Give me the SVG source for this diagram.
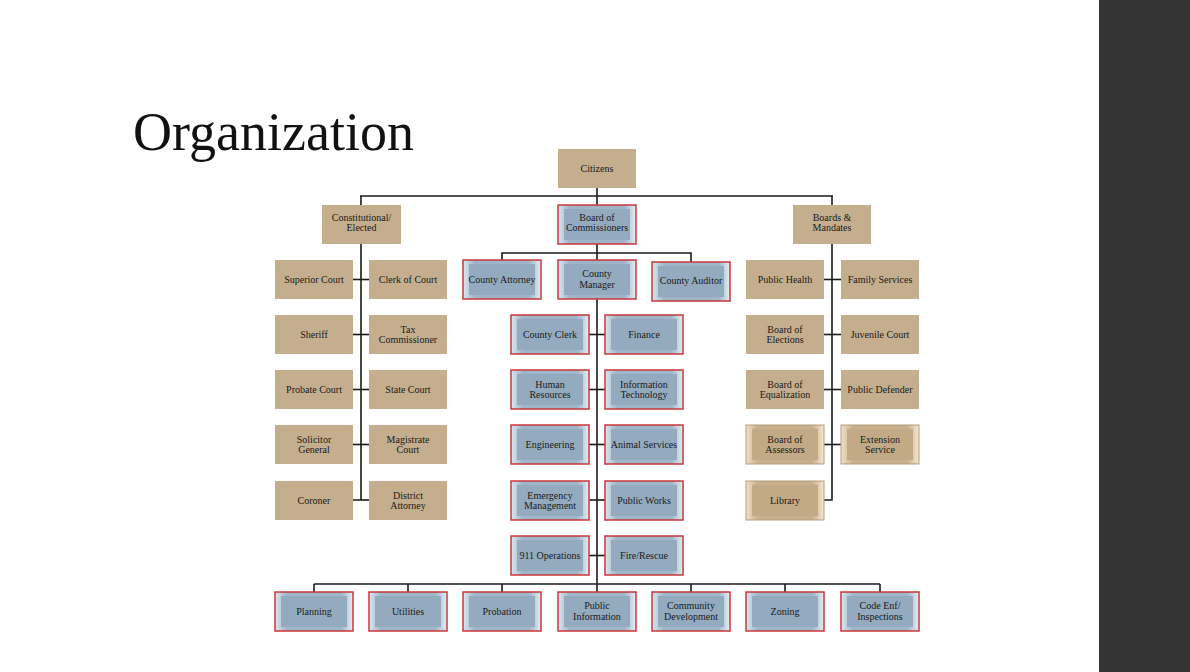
<svg xmlns="http://www.w3.org/2000/svg" width="1190" height="672" viewBox="0 0 1190 672">
<defs>
<linearGradient id="bg" x1="0" y1="0" x2="1" y2="0"><stop offset="0" stop-color="#dbe7ef"/><stop offset="0.15" stop-color="#9fb5c8"/><stop offset="0.85" stop-color="#9fb5c8"/><stop offset="1" stop-color="#e4eef4"/></linearGradient>
<linearGradient id="tg" x1="0" y1="0" x2="1" y2="0"><stop offset="0" stop-color="#f0e2c6"/><stop offset="0.15" stop-color="#c8b08c"/><stop offset="0.85" stop-color="#c8b08c"/><stop offset="1" stop-color="#f4e8d2"/></linearGradient>
</defs>
<style>
.t{font-family:"Liberation Serif",serif;font-size:10px;fill:#1a1a1a;text-anchor:middle}
.flat{fill:#c4ae8e}
.b .o{fill:url(#bg);stroke:#c8383a;stroke-width:1.5}
.b .i{fill:#94abbf}
.k .o{fill:url(#tg);stroke:#b39d7c;stroke-width:1}
.k .i{fill:#c2aa86}
.c line,.c polyline{stroke:#1a1a1a;stroke-width:1.6;fill:none}
</style>
<rect width="1190" height="672" fill="#fff"/>
<rect x="1099" y="0" width="91" height="672" fill="#333333"/>
<text x="133" y="150" font-family="Liberation Serif,serif" font-size="54" fill="#111">Organization</text>
<g class="c">
<line x1="597" y1="188" x2="597" y2="205"/>
<line x1="360" y1="196" x2="833" y2="196"/>
<line x1="361" y1="196" x2="361" y2="205"/>
<line x1="832" y1="196" x2="832" y2="205"/>
<polyline points="353,500 361,500 361,244"/><line x1="361" y1="500" x2="369" y2="500"/>
<line x1="353" y1="279.5" x2="369" y2="279.5"/><line x1="353" y1="334.5" x2="369" y2="334.5"/><line x1="353" y1="389.5" x2="369" y2="389.5"/><line x1="353" y1="444.5" x2="369" y2="444.5"/>
<line x1="597" y1="244" x2="597" y2="260"/>
<polyline points="502,260 502,253 691,253 691,262"/>
<line x1="597" y1="299" x2="597" y2="592"/>
<line x1="589" y1="334.5" x2="605" y2="334.5"/><line x1="589" y1="389.5" x2="605" y2="389.5"/><line x1="589" y1="444.5" x2="605" y2="444.5"/><line x1="589" y1="500" x2="605" y2="500"/><line x1="589" y1="555.5" x2="605" y2="555.5"/>
<line x1="314" y1="584" x2="880" y2="584"/>
<line x1="314" y1="584" x2="314" y2="592"/><line x1="408" y1="584" x2="408" y2="592"/><line x1="502" y1="584" x2="502" y2="592"/><line x1="691" y1="584" x2="691" y2="592"/><line x1="785" y1="584" x2="785" y2="592"/><line x1="880" y1="584" x2="880" y2="592"/>
<polyline points="824,500 832,500 832,244"/>
<line x1="824" y1="279.5" x2="841" y2="279.5"/><line x1="824" y1="334.5" x2="841" y2="334.5"/><line x1="824" y1="389.5" x2="841" y2="389.5"/><line x1="824" y1="444.5" x2="841" y2="444.5"/>
</g>
<g id="citizens"><rect class="flat" x="558" y="149" width="78" height="39"/><text class="t" x="597" y="172">Citizens</text></g>
<g id="const"><rect class="flat" x="322" y="205" width="79" height="39"/><text class="t" x="361.5" y="221">Constitutional/</text><text class="t" x="361.5" y="231">Elected</text></g>
<g id="boc" class="b"><rect class="o" x="558" y="205" width="78" height="39"/><rect class="i" x="564" y="209" width="66" height="31"/><text class="t" x="597" y="221">Board of</text><text class="t" x="597" y="231">Commissioners</text></g>
<g id="boards"><rect class="flat" x="793" y="205" width="78" height="39"/><text class="t" x="832" y="221">Boards &amp;</text><text class="t" x="832" y="231">Mandates</text></g>
<g id="sup"><rect class="flat" x="275" y="260" width="78" height="39"/><text class="t" x="314" y="283">Superior Court</text></g>
<g id="clerk"><rect class="flat" x="369" y="260" width="78" height="39"/><text class="t" x="408" y="283">Clerk of Court</text></g>
<g id="sheriff"><rect class="flat" x="275" y="315" width="78" height="39"/><text class="t" x="314" y="338">Sheriff</text></g>
<g id="tax"><rect class="flat" x="369" y="315" width="78" height="39"/><text class="t" x="408" y="333">Tax</text><text class="t" x="408" y="343">Commissioner</text></g>
<g id="probate"><rect class="flat" x="275" y="370" width="78" height="39"/><text class="t" x="314" y="393">Probate Court</text></g>
<g id="state"><rect class="flat" x="369" y="370" width="78" height="39"/><text class="t" x="408" y="393">State Court</text></g>
<g id="solicitor"><rect class="flat" x="275" y="425" width="78" height="39"/><text class="t" x="314" y="443">Solicitor</text><text class="t" x="314" y="453">General</text></g>
<g id="magistrate"><rect class="flat" x="369" y="425" width="78" height="39"/><text class="t" x="408" y="443">Magistrate</text><text class="t" x="408" y="453">Court</text></g>
<g id="coroner"><rect class="flat" x="275" y="481" width="78" height="39"/><text class="t" x="314" y="504">Coroner</text></g>
<g id="da"><rect class="flat" x="369" y="481" width="78" height="39"/><text class="t" x="408" y="499">District</text><text class="t" x="408" y="509">Attorney</text></g>
<g id="ph"><rect class="flat" x="746" y="260" width="78" height="39"/><text class="t" x="785" y="283">Public Health</text></g>
<g id="fs"><rect class="flat" x="841" y="260" width="78" height="39"/><text class="t" x="880" y="283">Family Services</text></g>
<g id="boe"><rect class="flat" x="746" y="315" width="78" height="39"/><text class="t" x="785" y="333">Board of</text><text class="t" x="785" y="343">Elections</text></g>
<g id="jc"><rect class="flat" x="841" y="315" width="78" height="39"/><text class="t" x="880" y="338">Juvenile Court</text></g>
<g id="boeq"><rect class="flat" x="746" y="370" width="78" height="39"/><text class="t" x="785" y="388">Board of</text><text class="t" x="785" y="398">Equalization</text></g>
<g id="pd"><rect class="flat" x="841" y="370" width="78" height="39"/><text class="t" x="880" y="393">Public Defender</text></g>
<g id="boa" class="k"><rect class="o" x="746" y="425" width="78" height="39"/><rect class="i" x="752" y="429" width="66" height="31"/><text class="t" x="785" y="443">Board of</text><text class="t" x="785" y="453">Assessors</text></g>
<g id="ext" class="k"><rect class="o" x="841" y="425" width="78" height="39"/><rect class="i" x="847" y="429" width="66" height="31"/><text class="t" x="880" y="443">Extension</text><text class="t" x="880" y="453">Service</text></g>
<g id="lib" class="k"><rect class="o" x="746" y="481" width="78" height="39"/><rect class="i" x="752" y="485" width="66" height="31"/><text class="t" x="785" y="504">Library</text></g>
<g id="ca" class="b"><rect class="o" x="463" y="260" width="78" height="39"/><rect class="i" x="469" y="264" width="66" height="31"/><text class="t" x="502" y="283">County Attorney</text></g>
<g id="cm" class="b"><rect class="o" x="558" y="260" width="78" height="39"/><rect class="i" x="564" y="264" width="66" height="31"/><text class="t" x="597" y="277">County</text><text class="t" x="597" y="288">Manager</text></g>
<g id="cau" class="b"><rect class="o" x="652" y="262" width="78" height="39"/><rect class="i" x="658" y="266" width="66" height="31"/><text class="t" x="691" y="284">County Auditor</text></g>
<g id="cc" class="b"><rect class="o" x="511" y="315" width="78" height="39"/><rect class="i" x="517" y="319" width="66" height="31"/><text class="t" x="550" y="338">County Clerk</text></g>
<g id="fin" class="b"><rect class="o" x="605" y="315" width="78" height="39"/><rect class="i" x="611" y="319" width="66" height="31"/><text class="t" x="644" y="338">Finance</text></g>
<g id="hr" class="b"><rect class="o" x="511" y="370" width="78" height="39"/><rect class="i" x="517" y="374" width="66" height="31"/><text class="t" x="550" y="388">Human</text><text class="t" x="550" y="398">Resources</text></g>
<g id="it" class="b"><rect class="o" x="605" y="370" width="78" height="39"/><rect class="i" x="611" y="374" width="66" height="31"/><text class="t" x="644" y="388">Information</text><text class="t" x="644" y="398">Technology</text></g>
<g id="eng" class="b"><rect class="o" x="511" y="425" width="78" height="39"/><rect class="i" x="517" y="429" width="66" height="31"/><text class="t" x="550" y="448">Engineering</text></g>
<g id="as" class="b"><rect class="o" x="605" y="425" width="78" height="39"/><rect class="i" x="611" y="429" width="66" height="31"/><text class="t" x="644" y="448">Animal Services</text></g>
<g id="em" class="b"><rect class="o" x="511" y="481" width="78" height="39"/><rect class="i" x="517" y="485" width="66" height="31"/><text class="t" x="550" y="499">Emergency</text><text class="t" x="550" y="509">Management</text></g>
<g id="pw" class="b"><rect class="o" x="605" y="481" width="78" height="39"/><rect class="i" x="611" y="485" width="66" height="31"/><text class="t" x="644" y="504">Public Works</text></g>
<g id="ops" class="b"><rect class="o" x="511" y="536" width="78" height="39"/><rect class="i" x="517" y="540" width="66" height="31"/><text class="t" x="550" y="559">911 Operations</text></g>
<g id="fire" class="b"><rect class="o" x="605" y="536" width="78" height="39"/><rect class="i" x="611" y="540" width="66" height="31"/><text class="t" x="644" y="559">Fire/Rescue</text></g>
<g id="plan" class="b"><rect class="o" x="275" y="592" width="78" height="39"/><rect class="i" x="281" y="596" width="66" height="31"/><text class="t" x="314" y="615">Planning</text></g>
<g id="util" class="b"><rect class="o" x="369" y="592" width="78" height="39"/><rect class="i" x="375" y="596" width="66" height="31"/><text class="t" x="408" y="615">Utilities</text></g>
<g id="prob" class="b"><rect class="o" x="463" y="592" width="78" height="39"/><rect class="i" x="469" y="596" width="66" height="31"/><text class="t" x="502" y="615">Probation</text></g>
<g id="pi" class="b"><rect class="o" x="558" y="592" width="78" height="39"/><rect class="i" x="564" y="596" width="66" height="31"/><text class="t" x="597" y="609">Public</text><text class="t" x="597" y="620">Information</text></g>
<g id="cd" class="b"><rect class="o" x="652" y="592" width="78" height="39"/><rect class="i" x="658" y="596" width="66" height="31"/><text class="t" x="691" y="609">Community</text><text class="t" x="691" y="620">Development</text></g>
<g id="zon" class="b"><rect class="o" x="746" y="592" width="78" height="39"/><rect class="i" x="752" y="596" width="66" height="31"/><text class="t" x="785" y="615">Zoning</text></g>
<g id="code" class="b"><rect class="o" x="841" y="592" width="78" height="39"/><rect class="i" x="847" y="596" width="66" height="31"/><text class="t" x="880" y="609">Code Enf/</text><text class="t" x="880" y="620">Inspections</text></g>
</svg>
